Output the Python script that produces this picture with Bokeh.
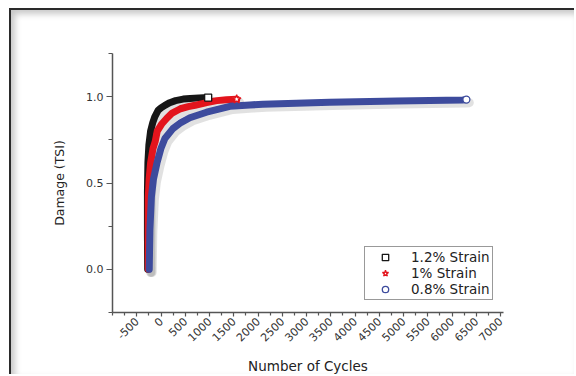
import math
from bokeh.plotting import figure
from bokeh.models import Range1d, FixedTicker, Legend, LegendItem
from bokeh.embed import file_html
from bokeh.resources import INLINE

# ---- data ----
x_major = [-500, 0, 500, 1000, 1500, 2000, 2500, 3000, 3500, 4000, 4500, 5000, 5500, 6000, 6500, 7000]
x_minor = [-1000, -750, -250, 250, 750, 1250, 1750, 2250, 2750, 3250, 3750, 4250, 4750,
           5250, 5750, 6250, 6750]
y_major = [0.0, 0.5, 1.0]
y_minor = [-0.25, 0.25, 0.75, 1.25]

cyc_12 = [-275, -280, -280, -270, -250, -215, -170, -126, -60, 0, 80, 180, 300, 457, 600, 780, 972]
dmg_12 = [0.0, 0.2, 0.45, 0.62, 0.72, 0.80, 0.85, 0.885, 0.92, 0.935, 0.95, 0.965, 0.977, 0.986,
          0.99, 0.993, 0.995]

cyc_10 = [-262, -265, -262, -245, -215, -165, -120, -78, 10, 120, 230, 400, 560, 700, 940, 1150,
          1350, 1560]
dmg_10 = [0.0, 0.15, 0.42, 0.52, 0.615, 0.70, 0.74, 0.80, 0.84, 0.875, 0.905, 0.93, 0.942, 0.95,
          0.966, 0.977, 0.982, 0.985]

cyc_08 = [-243, -229, -198, -157, -84, -2, 80, 245, 410, 595, 939, 1419, 1831, 2098, 3478, 4858,
          6218, 6295]
dmg_08 = [0.0, 0.23, 0.42, 0.52, 0.615, 0.70, 0.758, 0.815, 0.85, 0.878, 0.91, 0.944, 0.952, 0.956,
          0.967, 0.975, 0.981, 0.983]

names = ["1.2% Strain", "1% Strain", "0.8% Strain"]
colors = ["#161616", "#e3141c", "#3d4b9d"]

FONT = "DejaVu Sans"

p = figure(width=565, height=366, output_backend="svg", toolbar_location=None,
           x_range=Range1d(-1000, 7060), y_range=Range1d(-0.25, 1.25),
           min_border_left=101, min_border_right=73, min_border_top=43, min_border_bottom=62)
p.styles = {"margin-left": "9px", "margin-top": "8px",
            "border-top": "2px solid #2a2a2a", "border-left": "2px solid #2a2a2a",
            "box-shadow": "inset 4px 4px 6px rgba(0,0,0,0.22)"}
p.background_fill_color = "white"
p.border_fill_alpha = 0
p.outline_line_color = None
p.grid.visible = False

# offset ranges used only to cast soft drop shadows a few pixels down-right
p.extra_x_ranges = {"shx": Range1d(-1000 - 60, 7060 - 60)}
p.extra_y_ranges = {"shy": Range1d(-0.25 + 0.018, 1.25 + 0.018)}

# axes
for ax in (p.xaxis[0], p.yaxis[0]):
    ax.axis_line_color = "#555555"
    ax.axis_line_width = 1.5
    ax.major_tick_line_color = "#555555"
    ax.minor_tick_line_color = "#555555"
    ax.major_tick_line_width = 1.2
    ax.minor_tick_line_width = 1.2
    ax.major_tick_in = 0
    ax.minor_tick_in = 0
    ax.major_label_text_font = FONT
    ax.major_label_text_color = "#333333"
    ax.major_label_text_font_size = "11px"
    ax.axis_label_text_font = FONT
    ax.axis_label_text_font_style = "normal"
    ax.axis_label_text_color = "#222222"

p.xaxis.ticker = FixedTicker(ticks=x_major, minor_ticks=x_minor)
p.yaxis.ticker = FixedTicker(ticks=y_major, minor_ticks=y_minor)
p.xaxis.major_label_overrides = {t: str(t) for t in x_major}
p.yaxis.major_label_overrides = {0: "0.0", 0.5: "0.5", 1: "1.0"}
p.xaxis.major_label_orientation = math.pi / 4
p.xaxis.major_tick_out = 4
p.xaxis.minor_tick_out = 3
p.yaxis.major_tick_out = 6
p.yaxis.minor_tick_out = 4
p.xaxis.major_label_standoff = 3
p.yaxis.major_label_standoff = 3
p.xaxis.axis_label = "Number of Cycles"
p.yaxis.axis_label = "Damage (TSI)"
p.xaxis.axis_label_text_font_size = "13.5px"
p.yaxis.axis_label_text_font_size = "12.5px"
p.xaxis.axis_label_standoff = 10
p.yaxis.axis_label_standoff = 16

series = [(cyc_12, dmg_12), (cyc_10, dmg_10), (cyc_08, dmg_08)]

# soft shadows of the bands
for (cx, cy) in series:
    p.line(cx, cy, line_width=9, line_color="#9a9a9a", line_alpha=0.3,
           line_join="round", line_cap="round", x_range_name="shx", y_range_name="shy")

# curves (thick bands of dense markers)
for (cx, cy), col in zip(series, colors):
    p.line(cx, cy, line_width=7, line_color=col, line_join="round", line_cap="round")

# end markers, also used as legend glyphs
m12 = p.scatter(cyc_12[-1:], dmg_12[-1:], marker="square", size=7, fill_color="white",
                line_color=colors[0], line_width=1.3)
m10 = p.scatter(cyc_10[-1:], dmg_10[-1:], marker="star", size=9, fill_color="white",
                line_color=colors[1], line_width=1.3)
m08 = p.scatter(cyc_08[-1:], dmg_08[-1:], marker="circle", size=7, fill_color="white",
                line_color=colors[2], line_width=1.3)

legend = Legend(items=[LegendItem(label=names[0], renderers=[m12]),
                       LegendItem(label=names[1], renderers=[m10]),
                       LegendItem(label=names[2], renderers=[m08])],
                location=(252, 12))
legend.border_line_color = "#333333"
legend.border_line_width = 1
legend.background_fill_color = "white"
legend.padding = 2
legend.margin = 0
legend.spacing = 0
legend.glyph_width = 36
legend.glyph_height = 16
legend.label_height = 16
legend.label_standoff = 8
legend.label_text_font = FONT
legend.label_text_font_size = "13.5px"
legend.label_text_color = "#222222"
p.add_layout(legend)

open("out.html", "w").write(file_html(p, INLINE))
